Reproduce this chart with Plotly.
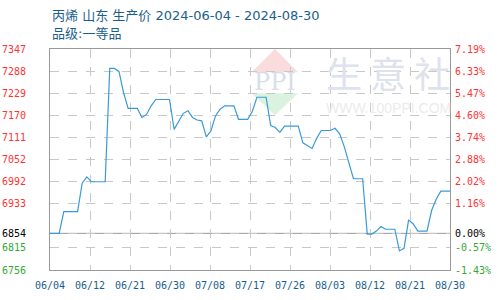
import plotly.graph_objects as go
import pandas as pd

title_line1 = "丙烯 山东 生产价 2024-06-04 - 2024-08-30"
title_line2 = "品级:一等品"

start_date = "2024-06-04"
end_date = "2024-08-30"
dates = pd.date_range(start_date, end_date, freq="D")

prices = [
    6854, 6854, 6854, 6912, 6912, 6912, 6912, 6988, 7005, 6992,
    6992, 6992, 6992, 7295, 7295, 7287, 7230, 7188, 7188, 7188,
    7164, 7172, 7195, 7212, 7212, 7212, 7212, 7132, 7154, 7175,
    7182, 7164, 7157, 7155, 7112, 7128, 7168, 7186, 7195, 7195,
    7195, 7159, 7159, 7159, 7180, 7218, 7218, 7218, 7142, 7137,
    7124, 7141, 7141, 7141, 7141, 7096, 7088, 7081, 7108, 7129,
    7129, 7129, 7135, 7120, 7086, 7040, 7000, 7000, 7000, 6852,
    6852, 6860, 6872, 6865, 6865, 6865, 6807, 6814, 6890, 6879,
    6860, 6860, 6860, 6915, 6945, 6967, 6967, 6967,
]

base_price = 6854
y_ticks = [6756, 6815, 6854, 6933, 6992, 7052, 7111, 7170, 7229, 7288, 7347]
pct_labels = ["-1.43%", "-0.57%", "0.00%", "1.16%", "2.02%", "2.88%",
              "3.74%", "4.60%", "5.47%", "6.33%", "7.19%"]
x_labels = ["06/04", "06/12", "06/21", "06/30", "07/08", "07/17",
            "07/26", "08/03", "08/12", "08/21", "08/30"]

RED = "#ff3333"
GREEN = "#33aa33"
BLACK = "#000000"
def col(v):
    return RED if v > base_price else (GREEN if v < base_price else BLACK)

left_text = [f'<span style="color:{col(v)}">{v}</span>' for v in y_ticks]
right_text = [f'<span style="color:{col(v)}">{p}</span>' for v, p in zip(y_ticks, pct_labels)]

t0 = pd.Timestamp(start_date)
t1 = pd.Timestamp(end_date)
n = len(x_labels) - 1
x_tickvals = [t0 + (t1 - t0) * i / n for i in range(n + 1)]

fig = go.Figure()
fig.add_trace(go.Scatter(x=dates, y=prices, mode="lines",
                         line=dict(color="#3a9ad9", width=1.2),
                         hoverinfo="skip", showlegend=False))
fig.add_trace(go.Scatter(x=dates, y=prices, mode="lines", yaxis="y2",
                         line=dict(color="rgba(0,0,0,0)", width=0),
                         hoverinfo="skip", showlegend=False))

tick_font = dict(family="DejaVu Sans Mono", size=10)
grid = dict(showgrid=True, gridcolor="#c8c8c8", gridwidth=1, griddash="dash")
title_font = dict(family="DejaVu Sans, Noto Sans CJK SC", size=13, color="#1a5e8c")

fig.update_layout(
    width=500, height=300,
    margin=dict(l=50, r=50, t=49, b=30, autoexpand=False),
    paper_bgcolor="white", plot_bgcolor="white",
    xaxis=dict(range=[t0, t1], tickvals=x_tickvals, ticktext=x_labels,
               tickfont=dict(family="DejaVu Sans Mono", size=10, color="#1a5e8c"),
               showline=True, linecolor="#999999", linewidth=1, mirror=True,
               ticks="", zeroline=False, ticklabelstandoff=6, automargin=False, **grid),
    yaxis=dict(range=[6756, 7347], tickvals=y_ticks, ticktext=left_text,
               tickfont=tick_font, ticks="", ticklabelstandoff=21, automargin=False,
               showline=True, linecolor="#999999", linewidth=1, mirror=True,
               zeroline=False, **grid),
    yaxis2=dict(range=[6756, 7347], tickvals=y_ticks, ticktext=right_text,
                tickfont=tick_font, ticks="", overlaying="y", side="right",
                showgrid=False, zeroline=False, showline=False, automargin=False,
                ticklabelstandoff=4),
    shapes=[
        dict(type="line", xref="paper", x0=0, x1=1, yref="y", y0=base_price, y1=base_price,
             line=dict(color="#999999", width=1), layer="below"),
        dict(type="path", xref="paper", yref="paper", layer="below",
             path="M 0.504 0.895 L 0.5625 1.0 L 0.62 0.895 Z",
             fillcolor="#fadcdc", line=dict(width=0)),
        dict(type="path", xref="paper", yref="paper", layer="below",
             path="M 0.504 0.80 L 0.62 0.80 L 0.5625 0.70 Z",
             fillcolor="#dcf2e0", line=dict(width=0)),
    ],
    annotations=[
        dict(text=title_line1, xref="paper", yref="paper", x=0, y=1, yshift=34,
             xanchor="left", yanchor="middle", showarrow=False, font=title_font),
        dict(text=title_line2, xref="paper", yref="paper", x=0, y=1, yshift=16,
             xanchor="left", yanchor="middle", showarrow=False, font=title_font),
        dict(text="PPI", xref="paper", yref="paper", x=0.5625, y=0.85,
             xanchor="center", yanchor="middle", showarrow=False,
             font=dict(family="DejaVu Serif", size=24, color="#d8dee9")),
        dict(text="生 意 社", xref="paper", yref="paper", x=0.845, y=0.895,
             xanchor="center", yanchor="middle", showarrow=False,
             font=dict(family="Noto Sans CJK SC", size=36, color="#dde2ec")),
        dict(text="WWW.100PPI.COM", xref="paper", yref="paper", x=0.845, y=0.735,
             xanchor="center", yanchor="middle", showarrow=False,
             font=dict(family="Liberation Sans", size=14, color="#ebebeb")),
    ],
)

fig.write_html("out.html")
